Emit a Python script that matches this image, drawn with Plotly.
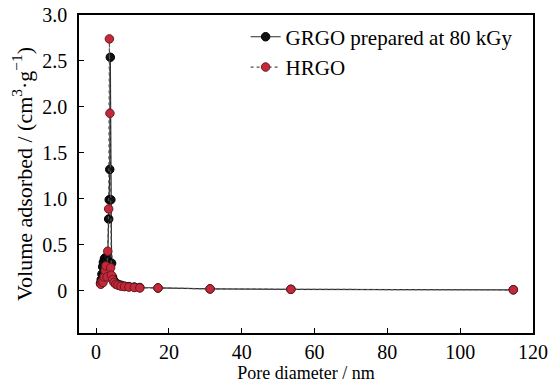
import plotly.graph_objects as go

# GRGO prepared at 80 kGy
grgo_x = [1.2, 1.4, 1.6, 1.8, 2.0, 2.3, 2.6, 2.9, 3.2, 3.45, 3.6, 3.75, 3.9, 4.05, 4.25, 4.5, 4.9, 5.4, 6.0, 6.8, 7.8, 9.0, 10.5, 12.0, 17.0, 31.3, 53.5, 114.6]
grgo_y = [0.08, 0.12, 0.18, 0.26, 0.31, 0.35, 0.36, 0.33, 0.37, 0.78, 0.99, 1.32, 2.54, 0.99, 0.30, 0.15, 0.11, 0.08, 0.07, 0.06, 0.05, 0.045, 0.04, 0.035, 0.03, 0.02, 0.015, 0.01]

# HRGO
hrgo_x = [1.3, 1.6, 1.9, 2.2, 2.5, 2.7, 3.0, 3.2, 3.45, 3.65, 3.8, 4.0, 4.2, 4.5, 4.9, 5.4, 6.0, 6.8, 7.8, 9.0, 10.5, 12.0, 17.0, 31.3, 53.5, 114.6]
hrgo_y = [0.07, 0.10, 0.09, 0.15, 0.22, 0.27, 0.15, 0.43, 0.89, 2.74, 1.93, 0.25, 0.17, 0.12, 0.09, 0.07, 0.06, 0.05, 0.045, 0.04, 0.035, 0.03, 0.03, 0.02, 0.015, 0.01]

y_ticks = [0, 0.5, 1.0, 1.5, 2.0, 2.5, 3.0]
y_ticktext = ["0", "0.5", "1.0", "1.5", "2.0", "2.5", "3.0"]
x_ticks = [0, 20, 40, 60, 80, 100, 120]

font_family = "Liberation Serif"

fig = go.Figure()
fig.add_trace(go.Scatter(
    x=grgo_x, y=grgo_y, mode="lines+markers", name="GRGO prepared at 80 kGy",
    line=dict(color="#2a2a2a", width=1.2),
    marker=dict(color="#111111", size=8.5, line=dict(color="#000000", width=1)),
))
fig.add_trace(go.Scatter(
    x=hrgo_x, y=hrgo_y, mode="lines+markers", name="HRGO",
    line=dict(color="#555555", width=1.2, dash="dot"),
    marker=dict(color="#c4283a", size=8.5, line=dict(color="#6a1a1e", width=1)),
))

axis_common = dict(
    showline=True, linecolor="black", linewidth=1.5, mirror=True,
    ticks="inside", ticklen=5, tickwidth=1.2, tickcolor="black",
    showgrid=False, zeroline=False, automargin=False,
    tickfont=dict(family=font_family, size=20, color="black"),
)

fig.update_layout(
    width=558, height=383,
    margin=dict(l=79, r=25, t=15, b=50, autoexpand=False),
    paper_bgcolor="white", plot_bgcolor="white",
    font=dict(family=font_family, color="black"),
    xaxis=dict(range=[-4.7, 120], tickvals=x_ticks,
               title=dict(text="Pore diameter / nm", font=dict(family=font_family, size=18), standoff=2),
               **axis_common),
    yaxis=dict(range=[-0.46, 3.0], tickvals=y_ticks, ticktext=y_ticktext,
               ticklabelstandoff=6,
               title=dict(text="Volume adsorbed / (cm<sup>3</sup>·g<sup>−1</sup>)", font=dict(family=font_family, size=22), standoff=4),
               **axis_common),
    legend=dict(x=0.367, y=0.995, xanchor="left", yanchor="top",
                font=dict(family=font_family, size=21, color="black"),
                bgcolor="rgba(0,0,0,0)", tracegroupgap=0, itemwidth=30),
    showlegend=True,
)

fig.write_html("out.html", config={"displayModeBar": False},
               post_script="document.body.style.margin='0';")
